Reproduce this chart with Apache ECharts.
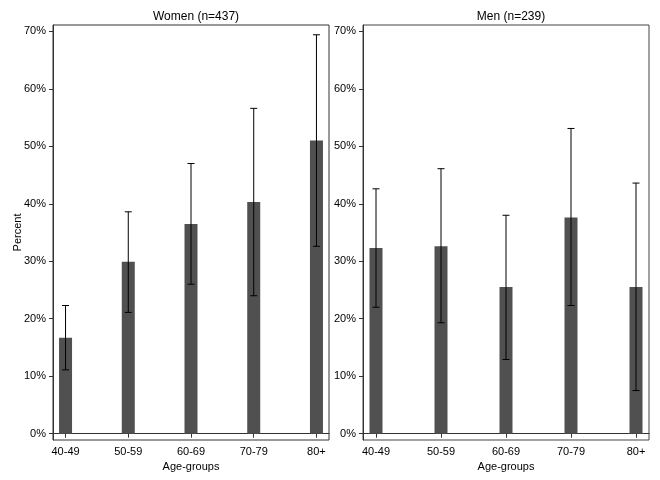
<!DOCTYPE html>
<html>
<head>
<meta charset="utf-8">
<script src="https://cdn.jsdelivr.net/npm/echarts@6/dist/echarts.min.js"></script>
<style>html,body{margin:0;padding:0;background:#fff}#c{width:660px;height:480px}</style>
</head>
<body>
<div id="c"></div>
<script>
var categories = ['40-49', '50-59', '60-69', '70-79', '80+'];
var yTicks = [0, 10, 20, 30, 40, 50, 60, 70];
var womenVal  = [16.7, 29.9, 36.5, 40.3, 51.0];
var womenLow  = [11.1, 21.1, 26.0, 24.0, 32.6];
var womenHigh = [22.3, 38.6, 47.0, 56.6, 69.4];
var menVal  = [32.3, 32.6, 25.5, 37.6, 25.5];
var menLow  = [22.0, 19.3, 12.9, 22.3, 7.5];
var menHigh = [42.6, 46.1, 38.0, 53.1, 43.6];
var panelTitles = ['Women (n=437)', 'Men (n=239)'];

var FONT = "'Liberation Sans', Arial, Helvetica, sans-serif";
var chart = echarts.init(document.getElementById('c'));

function xAxis(idx) {
  return {
    type: 'value', gridIndex: idx, min: 0.8, max: 5.2,
    name: 'Age-groups', nameLocation: 'middle', nameGap: 18,
    nameTextStyle: {color: '#000', fontSize: 11, fontFamily: FONT},
    axisLine: {show: true, lineStyle: {color: '#333', width: 1}},
    axisTick: {show: true, length: 4, lineStyle: {color: '#333'}, customValues: [1,2,3,4,5]},
    axisLabel: {color: '#000', fontSize: 11, fontFamily: FONT, margin: 6,
      customValues: [1,2,3,4,5],
      formatter: function (v) { return categories[Math.round(v) - 1]; }},
    splitLine: {show: false}
  };
}
function yAxis(idx) {
  var a = {
    type: 'value', gridIndex: idx, min: -1.1, max: 71.1,
    axisLine: {show: true, lineStyle: {color: '#333', width: 1}},
    axisTick: {show: true, length: 4, lineStyle: {color: '#333'}, customValues: yTicks},
    axisLabel: {color: '#000', fontSize: 11, fontFamily: FONT, margin: 7,
      customValues: yTicks,
      formatter: function (v) { return v + '%'; }},
    splitLine: {show: false}
  };
  if (idx === 0) {
    a.name = 'Percent'; a.nameLocation = 'middle'; a.nameGap = 30; a.nameRotate = 90;
    a.nameMoveOverlap = false;
    a.nameTextStyle = {color: '#000', fontSize: 11, fontFamily: FONT};
  }
  return a;
}
function barSeries(idx, vals) {
  return {
    type: 'bar', xAxisIndex: idx, yAxisIndex: idx, barWidth: 13,
    itemStyle: {color: '#505050'},
    data: vals.map(function (v, i) { return [i + 1, v]; }),
    silent: true
  };
}
function errSeries(idx, lows, highs) {
  return {
    type: 'custom', xAxisIndex: idx, yAxisIndex: idx, silent: true, z: 5,
    data: lows.map(function (l, i) { return [i + 1, l, highs[i]]; }),
    renderItem: function (params, api) {
      var x = api.value(0);
      var lo = api.coord([x, api.value(1)]);
      var hi = api.coord([x, api.value(2)]);
      var w = 3.5;
      var style = {stroke: '#000', lineWidth: 1};
      return {
        type: 'group',
        children: [
          {type: 'line', shape: {x1: hi[0], y1: hi[1], x2: lo[0], y2: lo[1]}, style: style},
          {type: 'line', shape: {x1: hi[0] - w, y1: hi[1], x2: hi[0] + w, y2: hi[1]}, style: style},
          {type: 'line', shape: {x1: lo[0] - w, y1: lo[1], x2: lo[0] + w, y2: lo[1]}, style: style}
        ]
      };
    }
  };
}

chart.setOption({
  animation: false,
  backgroundColor: '#fff',
  title: [
    {text: panelTitles[0], left: 191, top: 6, textAlign: 'center',
     textStyle: {color: '#000', fontSize: 12, fontWeight: 'normal', fontFamily: FONT}},
    {text: panelTitles[1], left: 506, top: 6, textAlign: 'center',
     textStyle: {color: '#000', fontSize: 12, fontWeight: 'normal', fontFamily: FONT}}
  ],
  grid: [
    {left: 53, right: 331, top: 25, bottom: 40, show: true, borderColor: '#333', borderWidth: 1, containLabel: false},
    {left: 363, right: 11, top: 25, bottom: 40, show: true, borderColor: '#444', borderWidth: 1, containLabel: false}
  ],
  xAxis: [xAxis(0), xAxis(1)],
  yAxis: [yAxis(0), yAxis(1)],
  series: [
    barSeries(0, womenVal), errSeries(0, womenLow, womenHigh),
    barSeries(1, menVal), errSeries(1, menLow, menHigh)
  ]
});
</script>
</body>
</html>
